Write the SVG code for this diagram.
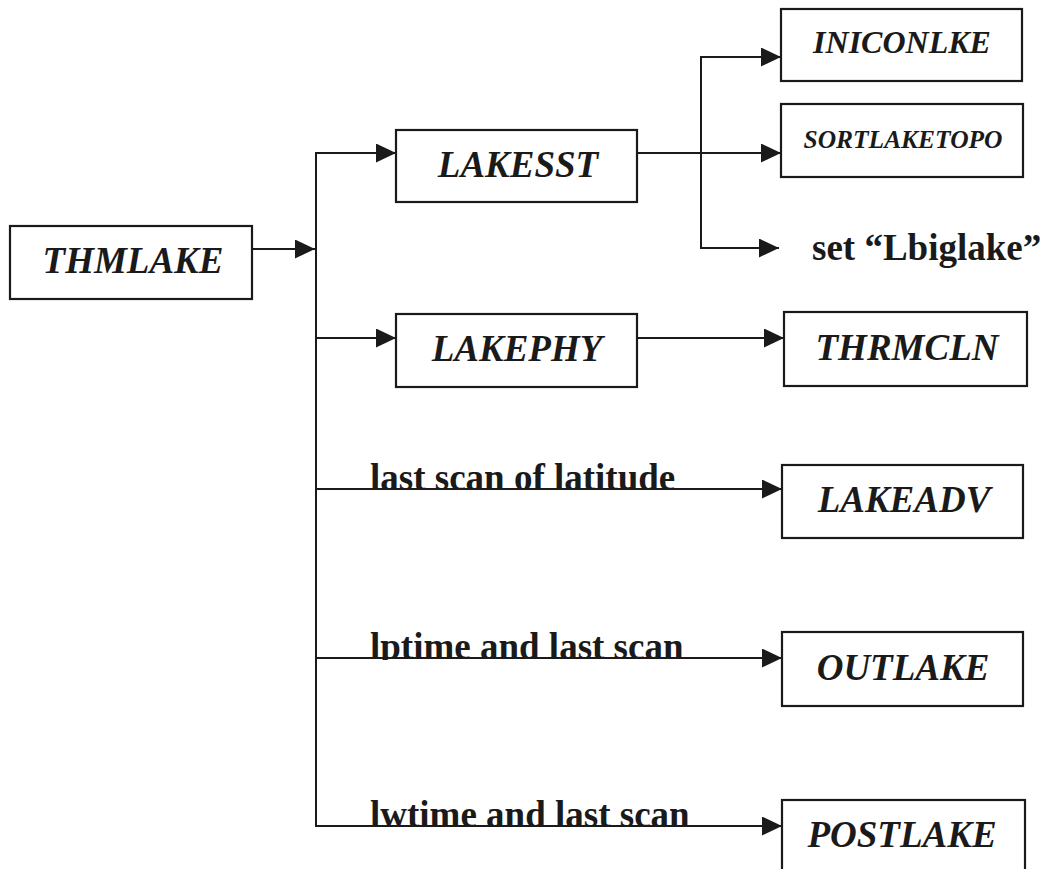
<svg xmlns="http://www.w3.org/2000/svg" width="1043" height="869" viewBox="0 0 1043 869">
<style>
.box{fill:#fff;stroke:#1a1a1a;stroke-width:2.2}
.nt{font-weight:bold;font-style:italic;font-size:37px;fill:#1a1a1a;text-anchor:middle}
.lb{font-weight:bold;font-size:37px;fill:#1a1a1a}
.cn{fill:none;stroke:#1a1a1a;stroke-width:2}
</style>
<defs>
<marker id="ah" markerUnits="userSpaceOnUse" markerWidth="21" markerHeight="20" refX="20" refY="9.5" orient="auto">
<path d="M0,0 L20,9.5 L0,19 z" fill="#1a1a1a"/>
</marker>
<clipPath id="clipL"><rect x="0" y="0" width="1043" height="490"/><rect x="0" y="500" width="1043" height="160"/><rect x="0" y="680" width="1043" height="147"/></clipPath>
</defs>
<rect width="1043" height="869" fill="#fff"/>
<g id="connectors">
<line class="cn" x1="252" y1="249" x2="315" y2="249" marker-end="url(#ah)"/>
<line class="cn" x1="316" y1="152" x2="316" y2="827"/>
<line class="cn" x1="315" y1="153" x2="396" y2="153" marker-end="url(#ah)"/>
<line class="cn" x1="315" y1="338" x2="396" y2="338" marker-end="url(#ah)"/>
<line class="cn" x1="315" y1="489" x2="782" y2="489" marker-end="url(#ah)"/>
<line class="cn" x1="315" y1="658" x2="782" y2="658" marker-end="url(#ah)"/>
<line class="cn" x1="315" y1="826" x2="782" y2="826" marker-end="url(#ah)"/>
<line class="cn" x1="637" y1="153" x2="781" y2="153" marker-end="url(#ah)"/>
<polyline class="cn" points="701,56 701,249"/>
<line class="cn" x1="700" y1="57" x2="781" y2="57" marker-end="url(#ah)"/>
<line class="cn" x1="700" y1="248" x2="779" y2="248" marker-end="url(#ah)"/>
<line class="cn" x1="637" y1="338" x2="784" y2="338" marker-end="url(#ah)"/>
<g clip-path="url(#clipL)" font-family="'Liberation Serif', 'DejaVu Serif', serif">
<text class="lb" x="370" y="490">last scan of latitude</text>
<text class="lb" x="370" y="659">lptime and last scan</text>
<text class="lb" x="370" y="827">lwtime and last scan</text>
</g>
</g>
<g font-family="'Liberation Serif', 'DejaVu Serif', serif">
<g id="THMLAKE"><rect class="box" x="10" y="226" width="242" height="73"/><text class="nt" x="133" y="273">THMLAKE</text></g>
<g id="LAKESST"><rect class="box" x="396" y="130" width="241" height="72"/><text class="nt" x="518" y="177">LAKESST</text></g>
<g id="LAKEPHY"><rect class="box" x="396" y="314" width="241" height="73"/><text class="nt" x="517" y="361">LAKEPHY</text></g>
<g id="INICONLKE"><rect class="box" x="781" y="9" width="241" height="72"/><text class="nt" x="902" y="53" style="font-size:32px">INICONLKE</text></g>
<g id="SORTLAKETOPO"><rect class="box" x="781" y="104" width="242" height="73"/><text class="nt" x="903" y="148" style="font-size:26px" textLength="199" lengthAdjust="spacingAndGlyphs">SORTLAKETOPO</text></g>
<g id="Lbiglake"><text class="lb" x="812" y="260">set “Lbiglake”</text></g>
<g id="THRMCLN"><rect class="box" x="784" y="312" width="243" height="74"/><text class="nt" x="907" y="360">THRMCLN</text></g>
<g id="LAKEADV"><rect class="box" x="782" y="465" width="241" height="73"/><text class="nt" x="904" y="512">LAKEADV</text></g>
<g id="OUTLAKE"><rect class="box" x="782" y="632" width="241" height="74"/><text class="nt" x="903" y="680">OUTLAKE</text></g>
<g id="POSTLAKE"><rect class="box" x="782" y="800" width="243" height="80"/><text class="nt" x="902" y="847">POSTLAKE</text></g>
</g>
</svg>
